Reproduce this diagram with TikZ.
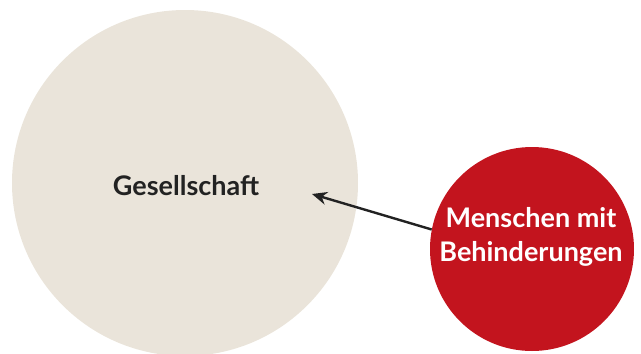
\documentclass[tikz,border=0pt]{standalone}
\usepackage{fontspec}
\setmainfont{Lato}
\usetikzlibrary{arrows.meta}
\definecolor{sand}{HTML}{EAE4DA}
\definecolor{signal}{HTML}{C3141E}
\definecolor{ink}{HTML}{222222}
\begin{document}
\begin{tikzpicture}[x=1pt,y=-1pt,
  bigdisc/.style={circle,fill=sand,minimum size=346pt,inner sep=0pt},
  smalldisc/.style={circle,fill=signal,minimum size=204pt,inner sep=0pt},
  label/.style={font=\bfseries\fontsize{27}{34}\selectfont,align=center},
  link/.style={-{Stealth[length=15pt,width=13pt]},line width=2.4pt,draw=ink}]
  \useasboundingbox (0,0) rectangle (641,354);
  \node[bigdisc] (ges) at (185,183) {};
  \node[label,text=ink] (gestext) at (186,186) {Gesellschaft};
  \node[smalldisc] (mmb) at (532,249) {};
  \node[label,text=white] (mmbtext) at (531,237) {Menschen mit\\Behinderungen};
  \coordinate (tip) at (312,194);
  \draw[link] (mmb.169) -- (tip);
\end{tikzpicture}
\end{document}
